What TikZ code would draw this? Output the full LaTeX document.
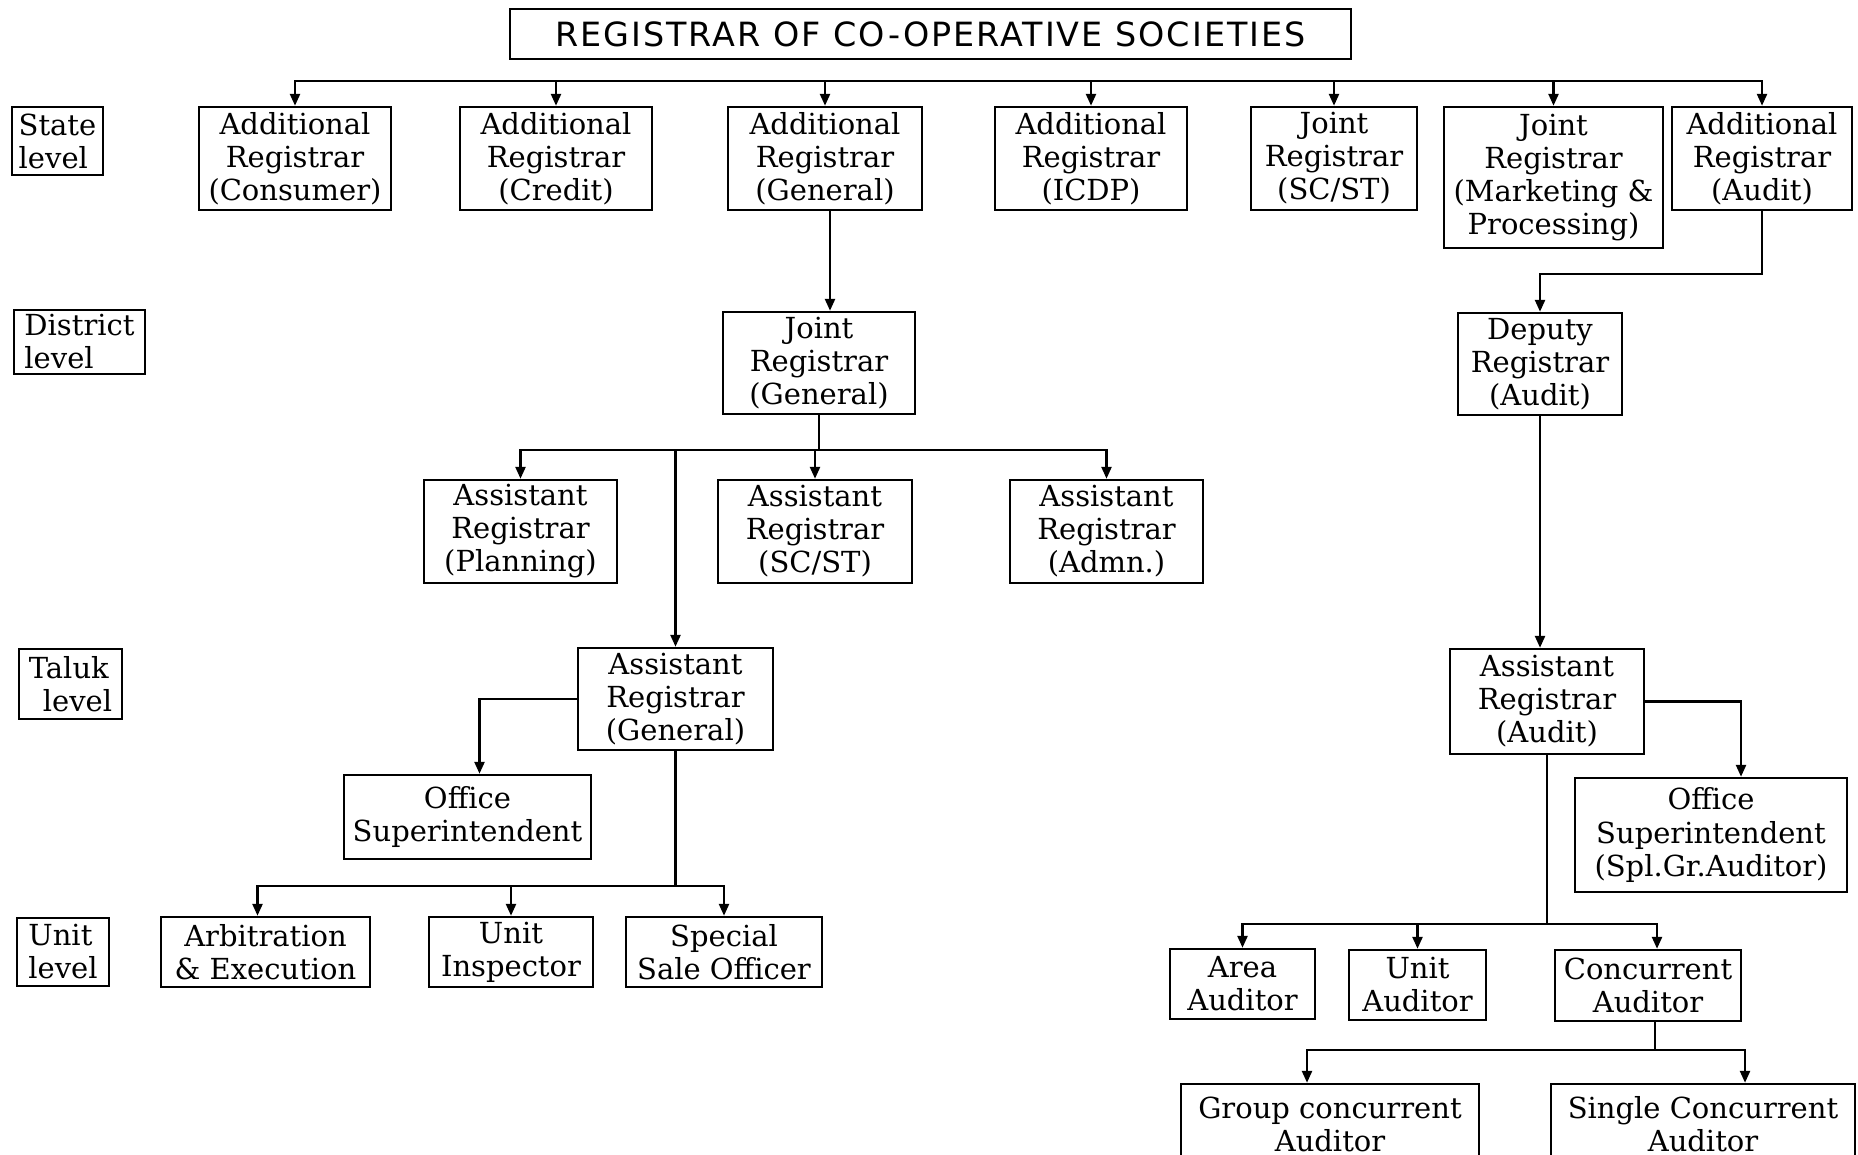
\documentclass[tikz,border=0pt]{standalone}
\usepackage{fontspec}
\usepackage{tikz}
\usetikzlibrary{arrows.meta,calc,positioning}
\newfontfamily\boxfont{DejaVu Serif}
\newfontfamily\headfont[LetterSpace=6]{DejaVu Sans}

\begin{document}
\begin{tikzpicture}[x=0.02cm, y=-0.02cm,
                        post/.style ={rectangle,draw=black,line width=1.4pt,inner sep=1pt,align=center,
                                      font=\boxfont\fontsize{16.5}{18.8}\selectfont},
                        lvl/.style  ={rectangle,draw=black,line width=1.4pt,inner sep=2pt,align=left,
                                      font=\boxfont\fontsize{16.5}{18.8}\selectfont},
                        head/.style ={rectangle,draw=black,line width=1.4pt,inner sep=1pt,
                                      font=\headfont\fontsize{19}{20}\selectfont},
                        link/.style ={-,draw,color=black,line width=1.4pt},
                        feed/.style ={-{Triangle[length=0.24cm,width=0.2cm]},draw,color=black,line width=1.4pt}]

      \useasboundingbox (0,0) rectangle (1858,1155);
      % head and level labels
      \node[head, minimum width=16.82cm, minimum height=1cm]   at(930.5, 34)  (reg)      {REGISTRAR OF CO-OPERATIVE SOCIETIES};
      \node[lvl, minimum width=1.82cm, minimum height=1.36cm]  at(57.5, 141)  (state)    {State\\level};
      \node[lvl, minimum width=2.62cm, minimum height=1.28cm]  at(79.5, 342)  (district) {District\\level};
      \node[lvl, minimum width=2.06cm, minimum height=1.4cm]   at(70.5, 684)  (taluk)    {Taluk\\\ \,level};
      \node[lvl, minimum width=1.84cm, minimum height=1.36cm]  at(63, 952)    (unit)     {Unit\\level};
      % state level
      \node[post, minimum width=3.84cm, minimum height=2.06cm] at(295, 158.5)    (adcon)   {Additional\\Registrar\\(Consumer)};
      \node[post, minimum width=3.84cm, minimum height=2.06cm] at(556, 158.5)    (adcre)   {Additional\\Registrar\\(Credit)};
      \node[post, minimum width=3.88cm, minimum height=2.06cm] at(825, 158.5)    (adgen)   {Additional\\Registrar\\(General)};
      \node[post, minimum width=3.84cm, minimum height=2.06cm] at(1091, 158.5)   (adicdp)  {Additional\\Registrar\\(ICDP)};
      \node[post, minimum width=3.32cm, minimum height=2.06cm] at(1334, 158.5)   (jrsc)    {Joint\\Registrar\\(SC/ST)};
      \node[post, minimum width=4.38cm, minimum height=2.82cm] at(1553.5, 177.5) (jrmkt)   {Joint\\Registrar\\(Marketing \&\\Processing)};
      \node[post, minimum width=3.6cm, minimum height=2.06cm]  at(1762, 158.5)   (adaud)   {Additional\\Registrar\\(Audit)};
      % district level
      \node[post, minimum width=3.84cm, minimum height=2.04cm] at(819, 363)      (jrgen)   {Joint\\Registrar\\(General)};
      \node[post, minimum width=3.28cm, minimum height=2.04cm] at(1540, 364)     (depreg)  {Deputy\\Registrar\\(Audit)};
      \node[post, minimum width=3.86cm, minimum height=2.06cm] at(520.5, 531.5)  (arplan)  {Assistant\\Registrar\\(Planning)};
      \node[post, minimum width=3.88cm, minimum height=2.06cm] at(815, 531.5)    (arsc)    {Assistant\\Registrar\\(SC/ST)};
      \node[post, minimum width=3.86cm, minimum height=2.06cm] at(1106.5, 531.5) (aradm)   {Assistant\\Registrar\\(Admn.)};
      % taluk level
      \node[post, minimum width=3.9cm, minimum height=2.04cm]  at(675.5, 699)    (argen)   {Assistant\\Registrar\\(General)};
      \node[post, minimum width=4.94cm, minimum height=1.68cm] at(467.5, 817)    (ofsup)   {Office\\Superintendent};
      \node[post, minimum width=3.88cm, minimum height=2.1cm]  at(1547, 701.5)   (araud)   {Assistant\\Registrar\\(Audit)};
      \node[post, minimum width=5.44cm, minimum height=2.28cm] at(1711, 835)     (ofspl)   {Office\\Superintendent\\(Spl.Gr.Auditor)};
      % unit level
      \node[post, minimum width=4.18cm, minimum height=1.4cm]  at(265.5, 952)    (arbit)   {Arbitration\\\& Execution};
      \node[post, minimum width=3.28cm, minimum height=1.4cm]  at(511, 952)      (unins)   {Unit\\Inspector};
      \node[post, minimum width=3.92cm, minimum height=1.4cm]  at(724, 952)      (sso)     {Special\\Sale Officer};
      \node[post, minimum width=2.9cm, minimum height=1.4cm]   at(1242.5, 984)   (areaaud) {Area\\Auditor};
      \node[post, minimum width=2.74cm, minimum height=1.4cm]  at(1417.5, 985)   (unitaud) {Unit\\Auditor};
      \node[post, minimum width=3.72cm, minimum height=1.42cm] at(1648, 985.5)   (concaud) {Concurrent\\Auditor};
      \node[post, minimum width=5.96cm, minimum height=1.6cm]  at(1330, 1124)    (grpaud)  {Group concurrent\\Auditor};
      \node[post, minimum width=6.08cm, minimum height=1.6cm]  at(1703, 1124)    (sinaud)  {Single Concurrent\\Auditor};
      % bus lines
      \coordinate (tbus) at(930, 81);
      \coordinate (dbus) at(1650, 274);
      \coordinate (jbus) at(819, 450);
      \coordinate (abus) at(679, 886);
      \coordinate (rbus) at(1543, 924);
      \coordinate (cbus) at(1655, 1050);
      \path[feed] (tbus) -| (adcon.north);
      \path[feed] (tbus) -| (adcre.north);
      \path[feed] (tbus) -| (adgen.north);
      \path[feed] (tbus) -| (adicdp.north);
      \path[feed] (tbus) -| (jrsc.north);
      \path[feed] (tbus) -| (jrmkt.north);
      \path[feed] (tbus) -| (adaud.north);
      \path[feed] ($(adgen.south)+(5,0)$) -- ($(adgen.south |- jrgen.north)+(5,0)$);
      \path[feed] (adaud.south) |- (dbus) -| (depreg.north);
      \path[link] (jrgen.south) -- (jrgen.south |- jbus);
      \path[feed] (jbus) -| (arplan.north);
      \path[feed] (jbus) -| (arsc.north);
      \path[feed] (jbus) -| (aradm.north);
      \path[feed] (jbus) -| (argen.north);
      \path[feed] (argen.west) -| ($(ofsup.north)+(12,0)$);
      \path[link] (argen.south) -- (argen.south |- abus);
      \path[feed] (argen.south |- abus) -| ($(arbit.north)+(-8,0)$);
      \path[feed] (argen.south |- abus) -| (unins.north);
      \path[feed] (argen.south |- abus) -| (sso.north);
      \path[feed] (depreg.south) -- (depreg.south |- araud.north);
      \path[feed] (araud.east) -| ($(ofspl.north)+(30,0)$);
      \path[link] (araud.south) -- (araud.south |- rbus);
      \path[feed] (araud.south |- rbus) -| (areaaud.north);
      \path[feed] (araud.south |- rbus) -| (unitaud.north);
      \path[feed] (araud.south |- rbus) -| ($(concaud.north)+(9,0)$);
      \path[link] ($(concaud.south)+(7,0)$) -- ($(concaud.south |- cbus)+(7,0)$);
      \path[feed] ($(concaud.south |- cbus)+(7,0)$) -| ($(grpaud.north)+(-23,0)$);
      \path[feed] ($(concaud.south |- cbus)+(7,0)$) -| ($(sinaud.north)+(42,0)$);
    \end{tikzpicture}
\end{document}
